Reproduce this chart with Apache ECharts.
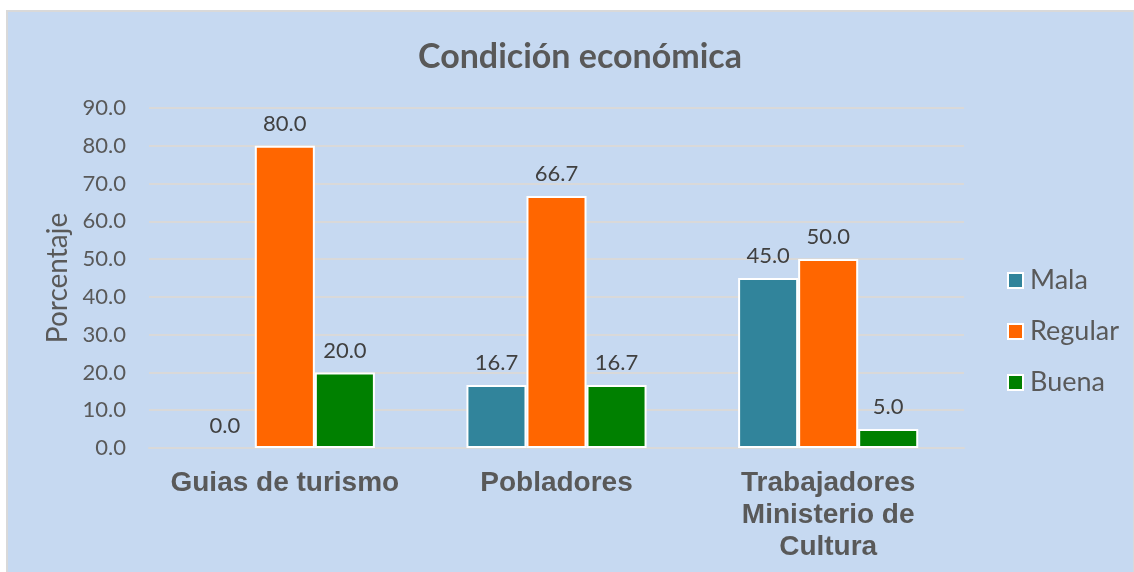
<!DOCTYPE html>
<html>
<head>
<meta charset="utf-8">
<script src="https://cdn.jsdelivr.net/npm/echarts@6/dist/echarts.min.js"></script>
<style>
html,body{margin:0;padding:0;background:#fff;}
#chart{width:1134px;height:572px;}
</style>
</head>
<body>
<div id="chart"></div>
<script>
const categories = ['Guias de turismo', 'Pobladores', 'Trabajadores\nMinisterio de\nCultura'];
const seriesNames = ['Mala', 'Regular', 'Buena'];
const mala = [0.0, 16.7, 45.0];
const regular = [80.0, 66.7, 50.0];
const buena = [20.0, 16.7, 5.0];
const yTicks = { min: 0, max: 90, interval: 10 };

const colors = ['#31849B', '#FF6600', '#008000'];
const values = [mala, regular, buena];

const chart = echarts.init(document.getElementById('chart'));
chart.setOption({
  backgroundColor: '#ffffff',
  animation: false,
  graphic: [{
    type: 'rect', z: -100, silent: true,
    shape: { x: 7, y: 11, width: 1127, height: 570 },
    style: { fill: '#C6D9F1', stroke: '#D9D9D9', lineWidth: 2 }
  }],
  title: {
    text: 'Condición económica',
    left: 575, top: 35, textAlign: 'center',
    textStyle: { fontFamily: 'Lato', fontWeight: 'bold', fontSize: 34, color: '#595959' }
  },
  legend: {
    orient: 'vertical',
    left: 1002, top: 262,
    itemWidth: 15, itemHeight: 15, itemGap: 24,
    icon: 'rect',
    itemStyle: { borderColor: '#ffffff', borderWidth: 2 },
    textStyle: { fontFamily: 'Lato', fontSize: 27, color: '#595959', padding: [0, 0, 0, 2] },
    data: seriesNames
  },
  grid: { left: 149, right: 170, top: 108, bottom: 124 },
  xAxis: {
    type: 'category',
    data: categories,
    axisTick: { show: false },
    axisLine: { show: true, lineStyle: { color: '#D9D9D9', width: 2 } },
    axisLabel: {
      margin: 19, interval: 0,
      fontFamily: 'Liberation Sans', fontWeight: 'bold', fontSize: 28,
      color: '#595959', lineHeight: 32
    }
  },
  yAxis: {
    type: 'value',
    min: yTicks.min, max: yTicks.max, interval: yTicks.interval,
    name: 'Porcentaje',
    nameLocation: 'middle',
    nameGap: 74,
    nameTextStyle: { fontFamily: 'Lato', fontSize: 28, color: '#595959' },
    axisLine: { show: false },
    axisTick: { show: false },
    splitLine: { lineStyle: { color: '#D9D9D9', width: 2 } },
    axisLabel: {
      margin: 23, fontFamily: 'Lato', fontSize: 22, color: '#595959',
      formatter: v => v.toFixed(1)
    }
  },
  series: seriesNames.map((name, i) => ({
    name,
    type: 'bar',
    data: values[i].map(v => v === 0 ? { value: v, itemStyle: { borderWidth: 0 } } : v),
    barGap: '0%',
    barCategoryGap: '33.7%',
    itemStyle: { color: colors[i], borderColor: '#ffffff', borderWidth: 2 },
    label: {
      show: true, position: 'top', distance: 11,
      fontFamily: 'Lato', fontSize: 22, color: '#404040',
      formatter: p => p.value.toFixed(1)
    }
  }))
});
</script>
</body>
</html>
